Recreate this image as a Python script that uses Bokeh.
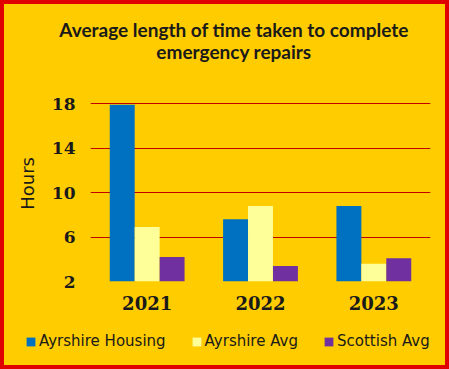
from bokeh.plotting import figure
from bokeh.layouts import column
from bokeh.models import (FactorRange, Range1d, FixedTicker, Legend, LegendItem,
                          Label, ColumnDataSource)
from bokeh.transform import dodge
from bokeh.embed import file_html
from bokeh.resources import INLINE

years = ["2021", "2022", "2023"]
ayrshire_housing = [17.9, 7.6, 8.8]
ayrshire_avg = [6.9, 8.8, 3.6]
scottish_avg = [4.2, 3.4, 4.1]
series_names = ["Ayrshire Housing", "Ayrshire Avg", "Scottish Avg"]
y_ticks = [2, 6, 10, 14, 18]
title_lines = ["Average length of time taken to complete", "emergency repairs"]

BG = "#FFCC00"
TXT = "#1a1a1a"
RED = "#E00000"
colors = ["#0070C0", "#FFFF99", "#7030A0"]
cols = ["ah", "aa", "sa"]

src = ColumnDataSource(dict(year=years, ah=ayrshire_housing, aa=ayrshire_avg, sa=scottish_avg))


def strip(h, xr, yr):
    f = figure(width=441, height=h, x_range=xr, y_range=yr,
               output_backend="svg", toolbar_location=None, x_axis_type=None, y_axis_type=None,
               min_border=0, min_border_left=0, min_border_right=0, min_border_top=0,
               min_border_bottom=0)
    f.frame_align = False
    f.background_fill_color = BG
    f.border_fill_color = BG
    f.outline_line_color = None
    f.xgrid.grid_line_color = None
    f.ygrid.grid_line_color = None
    return f


# title strip
T_H = 66
t = strip(T_H, Range1d(0, 441), Range1d(T_H, 0))
for txt, yb in zip(title_lines, [25, 46.5]):
    t.add_layout(Label(x=229.5, y=yb, text=txt, text_align="center",
                       text_baseline="alphabetic", text_font="Lato",
                       text_font_size="19px", text_font_style="bold", text_color=TXT))

# main chart
p = figure(width=441, height=250, x_range=FactorRange(*years), y_range=Range1d(2, 18.1),
           output_backend="svg", toolbar_location=None,
           min_border_left=86, min_border_right=15, min_border_top=32, min_border_bottom=39)
p.frame_align = False
p.background_fill_color = BG
p.border_fill_color = BG
p.outline_line_color = None

w = 0.22
for i, c in enumerate(cols):
    p.vbar(x=dodge("year", (i - 1) * w, range=p.x_range), top=c, bottom=2, width=w,
           source=src, fill_color=colors[i], line_color=None)

p.xgrid.grid_line_color = None
p.ygrid.grid_line_color = "#C00000"
p.ygrid.grid_line_width = 1
p.ygrid.ticker = FixedTicker(ticks=y_ticks)
p.yaxis.ticker = FixedTicker(ticks=y_ticks)

for ax in (p.xaxis[0], p.yaxis[0]):
    ax.axis_line_color = None
    ax.major_tick_line_color = None
    ax.minor_tick_line_color = None
    ax.major_tick_in = 0
    ax.major_tick_out = 0
    ax.major_label_text_font = "DejaVu Serif"
    ax.major_label_text_font_style = "bold"
    ax.major_label_text_font_size = "17px"
    ax.major_label_text_color = TXT
p.xaxis.major_label_text_font_size = "18px"
p.xaxis.major_label_standoff = 14
p.yaxis.major_label_standoff = 15
p.yaxis.axis_label = "\u00a0\u00a0\u00a0Hours"
p.yaxis.axis_label_text_font = "DejaVu Sans"
p.yaxis.axis_label_text_font_style = "normal"
p.yaxis.axis_label_text_font_size = "18px"
p.yaxis.axis_label_text_color = TXT
p.yaxis.axis_label_standoff = 11

# legend strip
q = strip(45, FactorRange(*years), Range1d(100, 101))
rs = []
for i, c in enumerate(cols):
    rs.append(q.vbar(x="year", top=c, bottom=2, width=w, source=src,
                     fill_color=colors[i], line_color=None))

legend = Legend(items=[LegendItem(label=series_names[i], renderers=[rs[i]]) for i in range(3)],
                orientation="horizontal", location=(21, 15),
                background_fill_alpha=0, border_line_color=None,
                label_text_font="DejaVu Sans", label_text_font_size="15px",
                label_text_color=TXT, glyph_width=11, glyph_height=11,
                label_standoff=3, spacing=25, padding=0, margin=0)
q.add_layout(legend, "center")

layout = column(t, p, q, spacing=0,
                styles={"border": f"4px solid {RED}", "background-color": BG})

open("out.html", "w").write(file_html(layout, INLINE))
